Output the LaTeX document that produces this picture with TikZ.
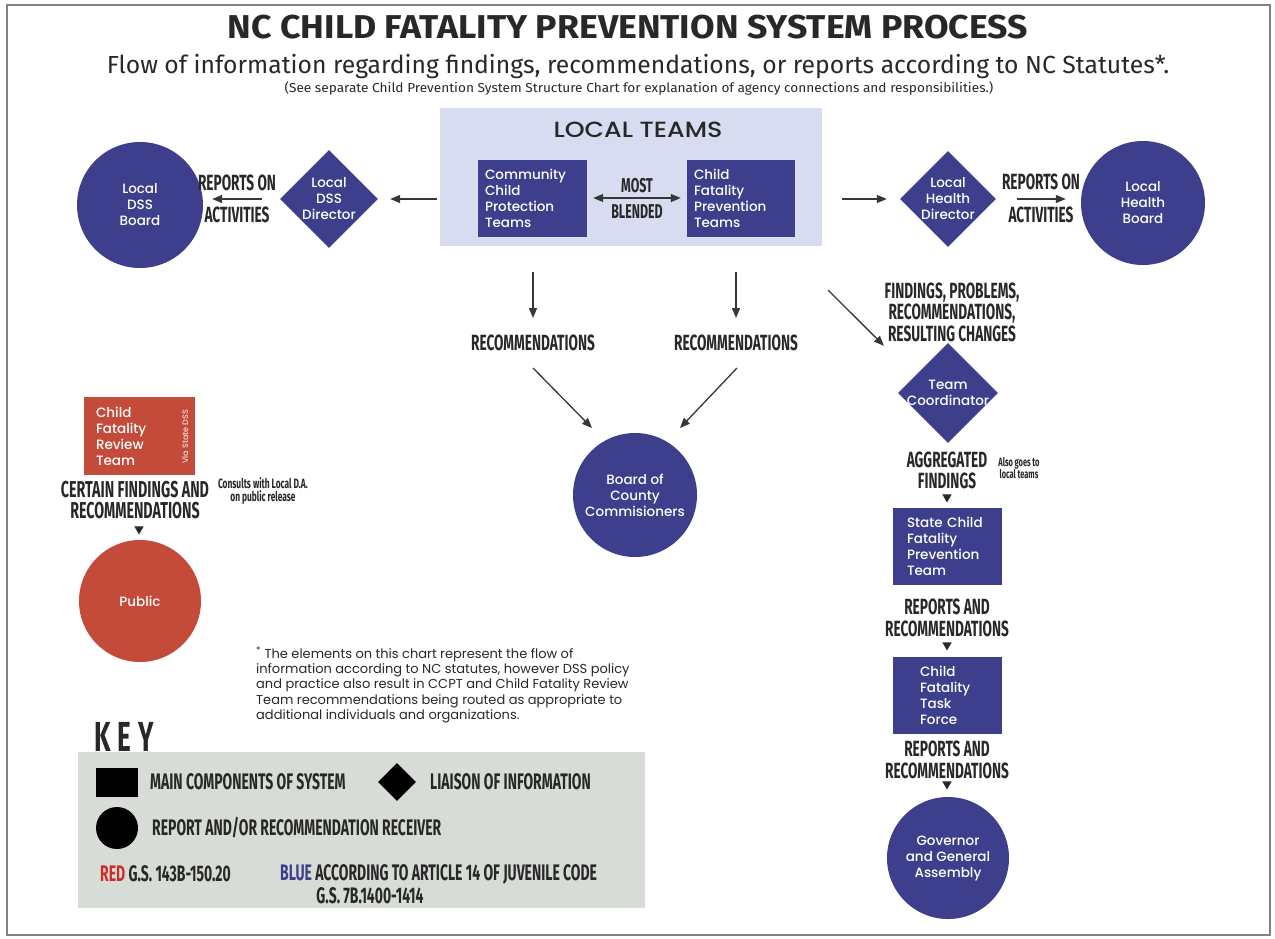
\documentclass[tikz,border=0pt]{standalone}
\usepackage{fontspec}
\setmainfont{Poppins}
\newfontfamily\medfont{Poppins Medium}
\newfontfamily\medwide[FakeStretch=1.15]{Poppins Medium}
\newfontfamily\cond[FakeStretch=0.62]{Fira Sans}
\newfontfamily\tfont[FakeStretch=1.08]{Fira Sans}
\newfontfamily\sfont{Fira Sans}
\newfontfamily\nfont[FakeStretch=1.05]{Fira Sans}
\usetikzlibrary{arrows.meta,shapes.geometric,calc}
\definecolor{navy}{RGB}{61,62,140}
\definecolor{redbox}{RGB}{196,74,58}
\definecolor{redtxt}{RGB}{205,45,40}
\definecolor{ltblue}{RGB}{215,220,240}
\definecolor{ink}{RGB}{40,40,40}
\definecolor{arrowgray}{RGB}{55,55,55}
\definecolor{keybg}{RGB}{216,220,214}
\definecolor{framegray}{RGB}{130,130,130}
\begin{document}
\begin{tikzpicture}[x=1pt,y=-1pt,
  nodetxt/.style={font=\medfont\fontsize{13.5}{16}\selectfont, text=white},
  bluebox/.style={nodetxt, fill=navy, align=left, inner sep=0pt, minimum height=77pt},
  circ/.style={circle, fill=navy, nodetxt, align=center, inner sep=0pt, minimum size=#1},
  diam/.style={diamond, aspect=1, fill=navy, inner sep=0pt, minimum width=#1, minimum height=#1},
  dtxt/.style={nodetxt, align=center, inner sep=0pt},
  lbl/.style={font=\cond\bfseries\fontsize{22}{21.5}\selectfont, text=ink, align=center, inner sep=0pt},
  klbl/.style={font=\cond\bfseries\fontsize{22.5}{21}\selectfont, text=ink, inner sep=0pt},
  small/.style={font=\cond\bfseries\fontsize{12}{12}\selectfont, text=ink, align=center, inner sep=0pt},
  arr/.style={draw=arrowgray, line width=1.3pt, -{Triangle[length=10pt,width=8pt]}},
  arrtwo/.style={draw=arrowgray, line width=1.3pt, {Triangle[length=10pt,width=8pt]}-{Triangle[length=10pt,width=8pt]}},
  tri/.style={regular polygon, regular polygon sides=3, shape border rotate=180, fill=ink, inner sep=0pt, minimum size=11pt}
]
\useasboundingbox (0,0) rectangle (1275,938);
\fill[white] (0,0) rectangle (1275,938);
\draw[framegray, line width=2pt] (7,5) rectangle (1270,935);

% header
\node[font=\tfont\bfseries\fontsize{33}{38}\selectfont, text=ink] (title) at (628,27) {NC CHILD FATALITY PREVENTION SYSTEM PROCESS};
\node[font=\sfont\fontsize{24.7}{28}\selectfont, text=ink] (sub) at (638,66) {Flow of information regarding findings, recommendations, or reports according to NC Statutes*.};
\node[font=\nfont\fontsize{13}{14}\selectfont, text=ink] (note) at (639,88) {(See separate Child Prevention System Structure Chart for explanation of agency connections and responsibilities.)};

% local teams
\node[fill=ltblue, minimum width=382pt, minimum height=138pt, inner sep=0pt] (lt) at (631,177) {};
\node[font=\medwide\fontsize{22}{24}\selectfont, text=ink] (ltl) at (638,130) {LOCAL TEAMS};
\node[bluebox, text width=95pt, minimum width=109pt] (ccpt) at (532.5,198) {Community\\Child\\Protection\\Teams};
\node[bluebox, text width=94pt, minimum width=108pt] (cfpt) at (741,198) {Child\\Fatality\\Prevention\\Teams};
\node[lbl, font=\cond\bfseries\fontsize{20}{21}\selectfont] (most) at (637,186) {MOST};
\node[lbl, font=\cond\bfseries\fontsize{20}{21}\selectfont] (blended) at (637,212) {BLENDED};
\draw[arrtwo] ([xshift=6pt]ccpt.east) -- ([xshift=-6pt]cfpt.west);

% DSS side
\node[diam=98pt, label={[dtxt]center:Local\\DSS\\Director}] (dssd) at (329,199) {};
\node[circ=126pt] (dssb) at (140,205) {Local\\DSS\\Board};
\node[lbl] (rep1) at (237,183) {REPORTS ON};
\node[lbl] (act1) at (237,215) {ACTIVITIES};
\draw[arr] ($(lt.west |- dssd)+(-3,0)$) -- ($(dssd.east)+(12,0)$);
\draw[arr] ($(dssd.west)+(-18,0)$) -- ($(dssb.east |- dssd)+(9,0)$);

% Health side
\node[diam=96pt, label={[dtxt]center:Local\\Health\\Director}] (hdir) at (948,199) {};
\node[circ=124pt] (hb) at (1143,203) {Local\\Health\\Board};
\node[lbl] (rep2) at (1041,182) {REPORTS ON};
\node[lbl] (act2) at (1041,215) {ACTIVITIES};
\draw[arr] ($(lt.east |- hdir)+(20,0)$) -- ($(hdir.west)+(-13,0)$);
\draw[arr] ($(hdir.east)+(21,0)$) -- ($(hb.west |- hdir)+(-15,0)$);

% recommendations to board
\node[lbl] (rec1) at (533,343) {RECOMMENDATIONS};
\node[lbl] (rec2) at (736,343) {RECOMMENDATIONS};
\node[circ=124pt] (board) at (635,495) {Board of\\County\\Commisioners};
\draw[arr] ($(lt.south -| rec1)+(0,26)$) -- ($(rec1)+(0,-25)$);
\draw[arr] ($(lt.south -| rec2)+(0,26)$) -- ($(rec2)+(0,-25)$);
\draw[arr] ($(rec1)+(0,25)$) -- ($(board)+(-43,-67)$);
\draw[arr] ($(rec2)+(1,25)$) -- ($(board)+(45,-67)$);

% right column
\node[lbl] (find) at (952,312) {FINDINGS, PROBLEMS,\\RECOMMENDATIONS,\\RESULTING CHANGES};
\node[diam=100pt, label={[dtxt]center:Team\\Coordinator}] (tc) at (948,393) {};
\draw[arr] ($(lt.south east)+(6,44)$) -- ($(tc.north)+(-64,3)$);
\node[lbl] (agg) at (947,470.5) {AGGREGATED\\FINDINGS};
\node[small] (also) at (1019,468) {Also goes to\\local teams};
\node[tri] (t1) at (947,497) {};
\node[bluebox, text width=81pt, minimum width=109pt] (state) at (947.5,546.5) {State Child\\Fatality\\Prevention\\Team};
\node[lbl] (rr1) at (947,618) {REPORTS AND\\RECOMMENDATIONS};
\node[tri] (t2) at (947,645) {};
\node[bluebox, text width=55pt, minimum width=109pt] (ctf) at (947.5,695) {Child\\Fatality\\Task\\Force};
\node[lbl] (rr2) at (947,760) {REPORTS AND\\RECOMMENDATIONS};
\node[tri] (t3) at (947,784) {};
\node[circ=122pt] (gov) at (948,858) {Governor\\and General\\Assembly};

% left column (red)
\node[bluebox, fill=redbox, text width=87pt, minimum width=111pt, minimum height=78pt] (cfrt) at (139.5,436) {Child\\Fatality\\Review\\Team};
\node[font=\medfont\fontsize{8}{9}\selectfont, text=white!80!redbox, rotate=90, inner sep=0pt] (via) at (185,437) {Via State DSS};
\node[lbl, font=\cond\bfseries\fontsize{23}{21.5}\selectfont] (cert) at (135,500) {CERTAIN FINDINGS AND\\RECOMMENDATIONS};
\node[small, font=\cond\bfseries\fontsize{13.5}{13}\selectfont] (cons) at (263,491) {Consults with Local D.A.\\on public release};
\node[tri] (t4) at (139,529) {};
\node[circ=122pt, fill=redbox] (pub) at (140,601) {Public};

% footnote
\node[font=\fontsize{13}{15.3}\selectfont, text=ink, align=left, anchor=north west, inner sep=0pt] (foot) at (256,647) {\textsuperscript{*} The elements on this chart represent the flow of\\information according to NC statutes, however DSS policy\\and practice also result in CCPT and Child Fatality Review\\Team recommendations being routed as appropriate to\\additional individuals and organizations.};

% key
\node[font=\cond\bfseries\fontsize{42}{42}\selectfont, text=ink, inner sep=0pt] (key) at (124,737) {K\,E\,Y};
\node[fill=keybg, minimum width=567pt, minimum height=156pt, inner sep=0pt] (keybox) at (361.5,830) {};
\node[fill=black, minimum width=42pt, minimum height=29pt, inner sep=0pt] (ksq) at (117,782.5) {};
\node[klbl, anchor=west] (k1) at (150,782) {MAIN COMPONENTS OF SYSTEM};
\node[diamond, aspect=1, fill=black, minimum width=38pt, minimum height=38pt, inner sep=0pt] (kdia) at (397,782) {};
\node[klbl, anchor=west] (k2) at (430,782) {LIAISON OF INFORMATION};
\node[circle, fill=black, minimum size=42pt, inner sep=0pt] (kcir) at (117,828) {};
\node[klbl, anchor=west] (k3) at (152,828) {REPORT AND/OR RECOMMENDATION RECEIVER};
\node[klbl, anchor=west] (k4) at (100,874) {\textcolor{redtxt}{RED} G.S. 143B-150.20};
\node[klbl, anchor=west] (k5) at (280,874) {\textcolor{navy}{BLUE} ACCORDING TO ARTICLE 14 OF JUVENILE CODE};
\node[klbl] (k6) at (370,896) {G.S. 7B.1400-1414};
\end{tikzpicture}
\end{document}
